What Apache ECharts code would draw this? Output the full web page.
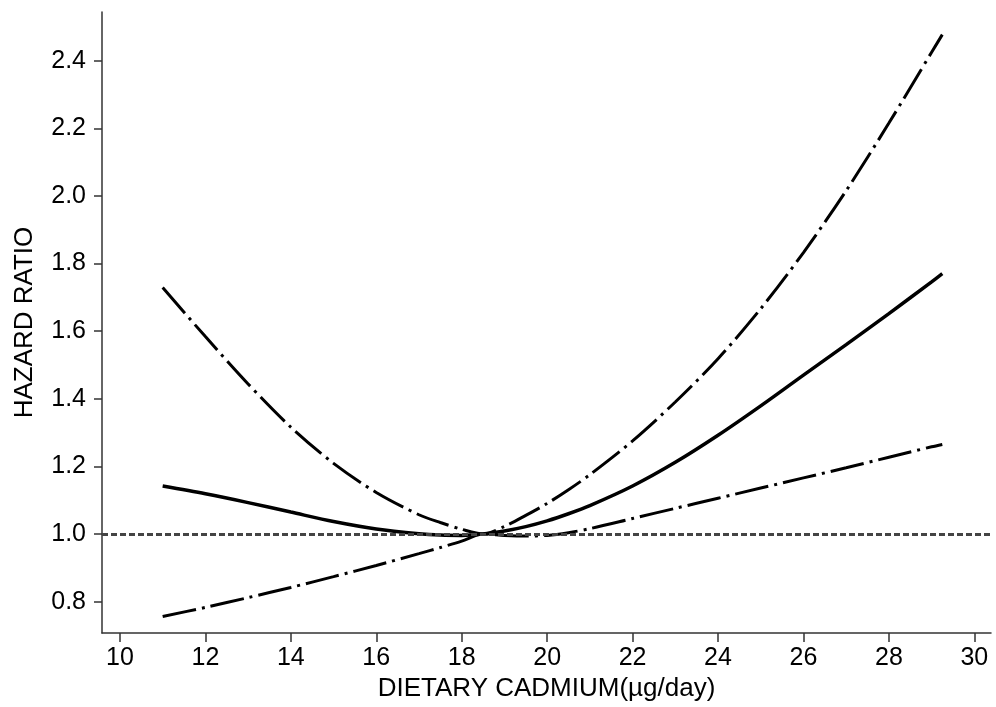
<!DOCTYPE html>
<html>
<head>
<meta charset="utf-8">
<script src="https://cdn.jsdelivr.net/npm/echarts@6/dist/echarts.min.js"></script>
<style>
html,body{margin:0;padding:0;background:#fff;}
#chart{width:996px;height:707px;}
</style>
</head>
<body>
<div id="chart"></div>
<script>
// Dietary cadmium (µg/day) values
const hrX = [11, 12, 13, 14, 15, 16, 17, 17.5, 18, 18.5, 19, 19.5, 20, 20.5, 21, 22, 23, 24, 25, 26, 27, 28, 29, 29.25];
// Hazard ratio (solid)
const hrY = [1.142, 1.119, 1.093, 1.065, 1.037, 1.015, 1.001, 0.997, 0.996, 1.0, 1.009, 1.022, 1.039, 1.060, 1.084, 1.142, 1.212, 1.292, 1.379, 1.470, 1.560, 1.652, 1.746, 1.770];
// Upper 95% CI
const upperY = [1.729, 1.584, 1.444, 1.316, 1.209, 1.123, 1.057, 1.034, 1.014, 1.0, 1.0225, 1.055, 1.0905, 1.131, 1.1755, 1.2755, 1.3905, 1.5185, 1.6665, 1.8325, 2.0155, 2.2155, 2.425, 2.477];
// Lower 95% CI
const lowerY = [0.756, 0.783, 0.812, 0.842, 0.874, 0.907, 0.942, 0.960, 0.979, 1.0, 0.996, 0.994, 0.996, 1.004, 1.016, 1.046, 1.076, 1.106, 1.136, 1.166, 1.196, 1.227, 1.258, 1.265];
// Reference line
const refValue = 1.0;
// Tick labels
const xTicks = [10, 12, 14, 16, 18, 20, 22, 24, 26, 28, 30];
const yTicks = [0.8, 1.0, 1.2, 1.4, 1.6, 1.8, 2.0, 2.2, 2.4];

const pairs = (xs, ys) => xs.map((x, i) => [x, ys[i]]);

const chart = echarts.init(document.getElementById('chart'), null, {renderer: 'canvas'});
const axisColor = '#333';
const font = 'Liberation Sans, Arial, sans-serif';
const dashDot = [34, 6, 3, 6];

chart.setOption({
  animation: false,
  backgroundColor: '#fff',
  grid: {left: 102, right: 5, top: 12, bottom: 71, containLabel: false},
  xAxis: {
    type: 'value',
    min: 9.58, max: 30.39,
    name: 'DIETARY CADMIUM(µg/day)',
    nameLocation: 'middle',
    nameGap: 29,
    nameTextStyle: {color: '#000', fontSize: 26, fontFamily: font},
    axisLine: {show: true, onZero: false, lineStyle: {color: axisColor, width: 1.5}},
    axisTick: {show: true, length: 9, customValues: xTicks, lineStyle: {color: axisColor, width: 1.5}},
    axisLabel: {customValues: xTicks, color: '#000', fontSize: 25, fontFamily: font, margin: 13},
    splitLine: {show: false}
  },
  yAxis: {
    type: 'value',
    min: 0.707, max: 2.544,
    name: 'HAZARD RATIO',
    nameLocation: 'middle',
    nameGap: 64,
    nameTextStyle: {color: '#000', fontSize: 26, fontFamily: font},
    axisLine: {show: true, onZero: false, lineStyle: {color: axisColor, width: 1.5}},
    axisTick: {show: true, length: 8, customValues: yTicks, lineStyle: {color: axisColor, width: 1.5}},
    axisLabel: {customValues: yTicks, color: '#000', fontSize: 25, fontFamily: font, margin: 16,
      formatter: v => v.toFixed(1)},
    splitLine: {show: false}
  },
  series: [
    {
      type: 'line', name: 'HR', data: pairs(hrX, hrY), smooth: 0.3, showSymbol: false,
      lineStyle: {color: '#000', width: 3.5, type: 'solid'},
      markLine: {
        silent: true, symbol: 'none', label: {show: false},
        lineStyle: {color: '#444', width: 3, type: [6, 3]},
        data: [{yAxis: refValue}]
      },
      z: 3
    },
    {
      type: 'line', name: 'Upper', data: pairs(hrX, upperY), smooth: 0.3, showSymbol: false,
      lineStyle: {color: '#000', width: 3, type: dashDot}
    },
    {
      type: 'line', name: 'Lower', data: pairs(hrX, lowerY), smooth: 0.3, showSymbol: false,
      lineStyle: {color: '#000', width: 3, type: dashDot}
    }
  ]
});
</script>
</body>
</html>
